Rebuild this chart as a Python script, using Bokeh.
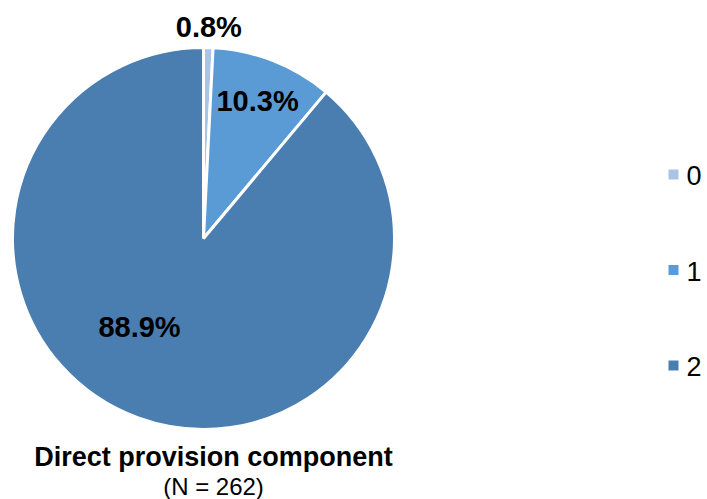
import math
from bokeh.plotting import figure
from bokeh.models import Range1d
from bokeh.embed import file_html
from bokeh.resources import INLINE
from bokeh.core.properties import value

# ---- data ----
categories = ["0", "1", "2"]
percents = [0.8, 10.3, 88.9]
label_texts = ["0.8%", "10.3%", "88.9%"]
title_text = "Direct provision component"
subtitle_text = "(N = 262)"

# ---- style ----
colors = ["#A9C4E7", "#5B9BD5", "#4A7EB0"]
FONT = "Liberation Sans"
W, H = 707, 499
CX, CY, R = 203, H - 238, 191
label_polar = [(1.11, None), (0.775, None), (0.57, 234.0)]  # (radius fraction, angle override deg)

p = figure(width=W, height=H, x_range=Range1d(0, W), y_range=Range1d(0, H),
           output_backend="svg", toolbar_location=None,
           x_axis_location=None, y_axis_location=None, min_border=0)
p.outline_line_color = None
p.xgrid.visible = False
p.ygrid.visible = False
p.background_fill_color = "white"
p.border_fill_color = "white"

total = sum(percents)
starts, ends, mids = [], [], []
cum = 0.0
for v in percents:
    a0 = math.pi / 2 - cum / total * 2 * math.pi
    cum += v
    a1 = math.pi / 2 - cum / total * 2 * math.pi
    starts.append(a0)
    ends.append(a1)
    mids.append((a0 + a1) / 2)

p.wedge(x=CX, y=CY, radius=R, radius_units="screen",
        start_angle=starts, end_angle=ends, direction="clock",
        fill_color=colors, line_color="white", line_width=3)

lx, ly = [], []
for (rf, ang), m in zip(label_polar, mids):
    a = math.radians(ang) if ang is not None else m
    lx.append(CX + rf * R * math.cos(a))
    ly.append(CY + rf * R * math.sin(a))
p.text(x=lx, y=ly, text=label_texts, text_align="center", text_baseline="middle",
       text_font=value(FONT), text_font_style="bold", text_font_size="29px", text_color="black")

# title
p.text(x=[213], y=[H - 456], text=[title_text], text_align="center", text_baseline="middle",
       text_font=value(FONT), text_font_style="bold", text_font_size="27px", text_color="black")
p.text(x=[213], y=[H - 486], text=[subtitle_text], text_align="center", text_baseline="middle",
       text_font=value(FONT), text_font_size="24px", text_color="black")

# legend
leg_y = [H - (174 + i * 95.5) for i in range(len(categories))]
p.scatter(x=[673] * len(categories), y=leg_y, marker="square", size=10,
          fill_color=colors, line_color=None)
p.text(x=[686] * len(categories), y=[y - 1 for y in leg_y], text=categories,
       text_align="left", text_baseline="middle",
       text_font=value(FONT), text_font_size="27px", text_color="black")

open("out.html", "w").write(file_html(p, INLINE))
